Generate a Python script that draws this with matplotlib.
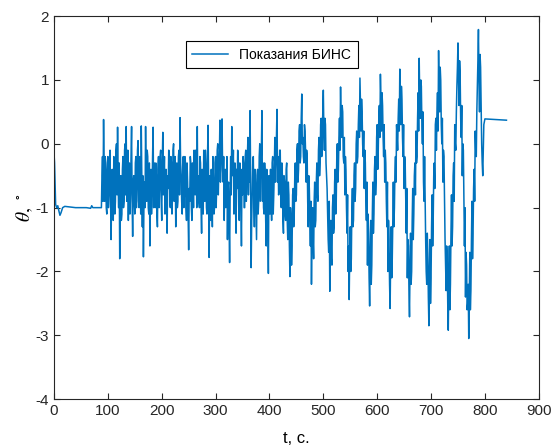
import numpy as np
import matplotlib
matplotlib.use('Agg')
import matplotlib.pyplot as plt

plt.rcParams['font.family'] = ['Liberation Sans', 'DejaVu Sans']
plt.rcParams['axes.unicode_minus'] = False
plt.rcParams['mathtext.fontset'] = 'stix'

# start: settling before the motion (t, theta)
t_start = [0, 1, 2, 3, 5, 7, 9, 11, 13, 16, 20, 30, 40, 50, 60, 68, 70, 72, 75, 80, 86]
theta_start = [-0.15, -0.3, -0.6, -0.95, -1.0, -0.97, -1.05, -1.12, -1.08, -1.0, -0.98,
               -0.99, -1.0, -1.0, -1.0, -1.01, -0.97, -1.0, -1.0, -1.0, -1.0]

# oscillation part, samples at even seconds t = 88 ... 798
theta_even = [
    -1.0, -0.2, 0.38, -0.9, -0.3, -1.1, -0.2, -0.8, -0.1, -1.5,
    -0.4, -1.2, -0.3, -0.9, 0.0, 0.26, -1.0, -1.8, -0.5, -1.1,
    -0.2, -0.9, 0.0, 0.27, -0.6, -1.2, -0.3, -0.8, 0.27, -1.45,
    -0.5, -1.1, -0.2, -0.7, 0.05, -1.0, -0.3, 0.28, -1.3, -1.77,
    -0.6, 0.27, -0.9, -0.2, -1.1, -1.6, -0.4, -0.8, 0.26, -0.3,
    -1.0, -0.5, -1.3, -0.2, -0.7, -0.1, -1.2, 0.18, -0.6, -1.1,
    -0.4, -1.4, -0.7, -0.2, -1.0, -0.3, -0.8, 0.0, -0.6, -1.3,
    -0.3, -0.9, -0.1, 0.41, -0.5, -1.1, -0.2, -0.8, -0.3, -1.2,
    -0.6, -1.66, -0.9, -0.3, -1.2, -0.5, -0.1, -0.8, -0.2, 0.27,
    -0.5, -1.0, -0.3, -1.4, -0.6, -0.1, -0.9, -0.3, -1.1, 0.29,
    -1.78, -0.8, -0.4, -1.3, -0.6, -1.0, -0.2, -0.7, 0.0, -0.4,
    0.37, -0.3, 0.39, -0.6, -1.2, -0.4, -0.9, -1.5, -0.6, -1.86,
    -0.2, 0.27, -0.5, -1.1, -0.3, -1.4, -0.7, -0.2, -1.2, -0.5,
    -1.6, -0.8, -0.3, -1.0, -0.1, -0.6, 0.1, -0.4, 0.52, -1.94,
    -0.8, -0.2, -1.3, -0.6, -1.5, -0.4, -0.9, 0.0, -0.5, 0.52,
    -0.3, -1.1, -0.5, -1.6, -0.8, -2.03, -0.9, -0.4, -1.2, -0.2,
    -0.8, 0.1, -0.3, 0.54, -0.2, -0.7, -0.1, -1.0, -0.5, -1.4,
    -0.6, -1.2, -0.3, -1.5, -0.8, -2.08, -1.2, -1.6, -0.7, -1.1,
    -0.3, -0.8, 0.0, -0.4, 0.3, -0.2, 0.78, 0.1, -0.3, 0.2,
    -0.6, -0.2, -1.3, -0.7, -1.6, -2.20, -1.0, -1.8, -0.6, -1.2,
    -0.3, -0.9, 0.1, -0.3, 0.4, 0.0, 0.84, -0.1, 0.3, -0.5,
    -1.1, -1.7, -2.31, -1.2, -1.9, -0.8, -1.3, -0.4, -0.9, 0.0,
    -0.4, 0.4, 0.89, 0.1, 0.5, -0.3, -0.8, -0.4, -1.4, -2.0,
    -2.44, -1.3, -1.8, -0.7, -1.2, -0.3, -0.7, 0.2, -0.2, 0.6,
    1.03, 0.2, 0.5, -0.2, -0.7, -0.3, -1.2, -1.9, -1.4, -2.54,
    -1.2, -1.9, -0.6, -1.1, -0.2, -0.6, 0.3, -0.1, 0.6, 1.09,
    0.2, 0.6, -0.2, -0.6, -0.3, -1.3, -2.0, -1.5, -2.58, -1.3,
    -1.8, -0.6, -1.0, -0.2, 0.3, -0.1, 0.7, 1.17, 0.3, 0.7,
    -0.2, -0.7, -0.3, -1.4, -2.1, -1.6, -2.71, -1.4, -2.0, -0.7,
    -1.1, -0.3, 0.2, -0.2, 0.8, 1.34, 0.4, 0.9, 0.0, -0.6,
    -0.2, -1.5, -2.2, -1.7, -2.85, -1.5, -2.1, -0.8, -1.2, -0.3,
    0.3, -0.1, 0.8, 1.46, 0.5, 1.0, 0.0, -0.6, -0.2, -1.5,
    -2.3, -1.8, -2.92, -1.6, -2.2, -0.8, -1.3, -0.3, 0.3, -0.1,
    0.9, 1.58, 0.6, 1.1, 0.1, -0.5, -0.1, -1.6, -2.4, -1.9,
    -2.5, -3.05, -1.7, -2.3, -0.9, -1.4, -0.4, 0.2, -0.2, 0.9,
    1.79, 0.5, 1.2, 0.0, -0.5, 0.3,
]
t_even = np.arange(88, 800, 2)

# samples at odd seconds t = 89 ... 797
theta_odd = [
    -0.5, -0.9, -0.4, -0.2, -1.0, -0.4, -1.0, -0.3, -0.9, -0.7,
    -1.0, -0.2, -1.1, -0.1, -0.8, -0.6, -0.3, -0.9, -1.2, -0.4,
    -1.0, -0.1, -0.8, -0.9, -0.1, -0.4, -1.1, -0.2, -0.9, -0.6,
    -0.9, -0.3, -1.0, -0.1, -0.9, -0.2, -1.1, -0.6, -0.5, -0.9,
    -1.0, -0.5, -0.1, -1.0, -0.3, -0.7, -1.1, -0.2, -1.0, -0.6,
    -0.3, -1.1, -0.4, -1.0, -0.2, -0.9, -0.3, -0.8, -0.2, -0.6,
    -1.0, -0.5, -0.1, -0.9, -0.2, -1.1, -0.1, -0.9, -0.2, -0.7,
    -1.0, -0.2, -0.8, -0.3, -0.9, -0.3, -1.0, -0.2, -1.0, -0.3,
    -1.1, -0.7, -0.2, -1.0, -0.3, -1.0, -0.7, -0.1, -1.0, -0.9,
    -0.9, -0.2, -1.0, -0.4, -1.1, -0.8, -0.1, -1.0, -0.2, -0.6,
    -0.5, -1.2, -0.9, -0.2, -1.1, -0.3, -1.0, -0.1, -0.8, -0.2,
    -0.6, 0.0, -0.4, -0.2, -0.5, -1.0, -0.2, -0.7, -1.2, -0.8,
    -0.8, -0.3, -0.1, -0.4, -1.0, -0.4, -0.1, -1.0, -0.3, -0.9,
    -0.4, -0.2, -1.0, -0.2, -0.9, -0.2, -0.8, -0.6, -0.5, -1.2,
    -0.3, -0.9, -0.4, -1.1, -0.5, -1.1, -0.2, -0.9, -0.1, -0.9,
    -1.0, -0.3, -1.2, -0.4, -1.3, -0.5, -1.1, -0.9, -0.3, -1.1,
    -0.4, -0.6, 0.1, -0.6, -0.8, -0.1, -0.9, -0.3, -1.2, -0.5,
    -1.1, -0.4, -1.2, -0.6, -1.6, -1.0, -1.9, -0.8, -1.3, -0.5,
    -0.9, -0.1, -0.6, 0.2, -0.3, 0.4, 0.0, -0.2, 0.3, -0.1,
    -0.1, -0.9, -0.5, -1.2, -0.9, -1.4, -1.5, -0.9, -1.3, -0.6,
    -0.8, -0.1, -0.5, 0.3, -0.2, 0.5, 0.2, 0.4, -0.3, -0.7,
    -1.5, -0.9, -1.6, -1.8, -1.0, -1.4, -0.6, -1.1, -0.2, -0.6,
    0.1, -0.1, 0.3, 0.6, -0.2, 0.1, -0.2, -1.0, -0.8, -1.6,
    -1.7, -2.0, -1.0, -1.3, -0.5, -0.9, 0.0, -0.3, 0.3, 0.1,
    0.6, 0.7, 0.0, 0.2, -0.1, -0.9, -0.6, -1.1, -2.1, -1.7,
    -2.2, -1.1, -1.4, -0.4, -0.8, 0.1, -0.4, 0.4, 0.1, 0.7,
    0.8, 0.1, 0.3, -0.1, -0.9, -0.6, -1.2, -2.2, -1.8, -2.1,
    -1.2, -1.3, -0.4, -0.6, 0.1, 0.4, 0.2, 0.5, 0.9, 0.1,
    0.3, -0.2, -0.9, -0.7, -1.5, -2.3, -1.9, -2.2, -1.2, -1.5,
    -0.5, -0.8, -0.3, 0.4, 0.2, 0.7, 1.0, 0.3, 0.5, -0.9,
    -0.9, -2.0, -1.4, -2.4, -2.0, -2.5, -1.3, -1.6, -0.5, -0.7,
    0.4, 0.5, 0.2, 0.8, 1.2, 0.3, 0.4, -0.1, -0.9, -1.9,
    -1.6, -2.5, -2.1, -2.6, -1.4, -1.6, -0.5, -0.9, 0.0, 0.5,
    1.2, 1.0, 1.3, 0.4, 0.6, 0.0, -0.8, -1.0, -1.7, -2.6,
    -2.2, -2.4, -2.6, -1.5, -1.8, -0.7, -0.9, -0.1, 0.5, 1.3,
    1.0, 1.4, 0.6, -0.3, -0.1,
]
t_odd = np.arange(89, 799, 2)

# end: vehicle stopped
t_end = [800, 820, 840]
theta_end = [0.39, 0.38, 0.37]

t = np.concatenate([t_start, t_even, t_odd, t_end])
theta = np.concatenate([theta_start, theta_even, theta_odd, theta_end])
order = np.argsort(t, kind='stable')
t, theta = t[order], theta[order]

fig = plt.figure(figsize=(5.54, 4.48), dpi=100)
ax = fig.add_axes([0.0975, 0.109, 0.875, 0.855])

ax.plot(t, theta, color='#0072BD', lw=1.1, label='Показания БИНС')

ax.set_xlim(0, 900)
ax.set_ylim(-4, 2)
ax.set_xticks(np.arange(0, 1000, 100))
ax.set_yticks(np.arange(-4, 3, 1))
ax.tick_params(direction='in', top=True, right=True, labelsize=11, length=4,
               width=0.8, colors='#262626', labelcolor='#262626')
for s in ax.spines.values():
    s.set_linewidth(0.8)
    s.set_color('#262626')

ax.set_xlabel('t, с.', fontsize=12, labelpad=9)
ax.set_ylabel(r'$\theta,\ ^{\circ}$', fontsize=14)
ax.yaxis.set_label_coords(-0.04, 0.5)

leg = ax.legend(loc='upper left', bbox_to_anchor=(0.258, 0.952), fontsize=10,
                fancybox=False, edgecolor='black', framealpha=1,
                handlelength=2.6, borderpad=0.45)
leg.get_frame().set_linewidth(0.8)

fig.savefig('out.png', dpi=100)
